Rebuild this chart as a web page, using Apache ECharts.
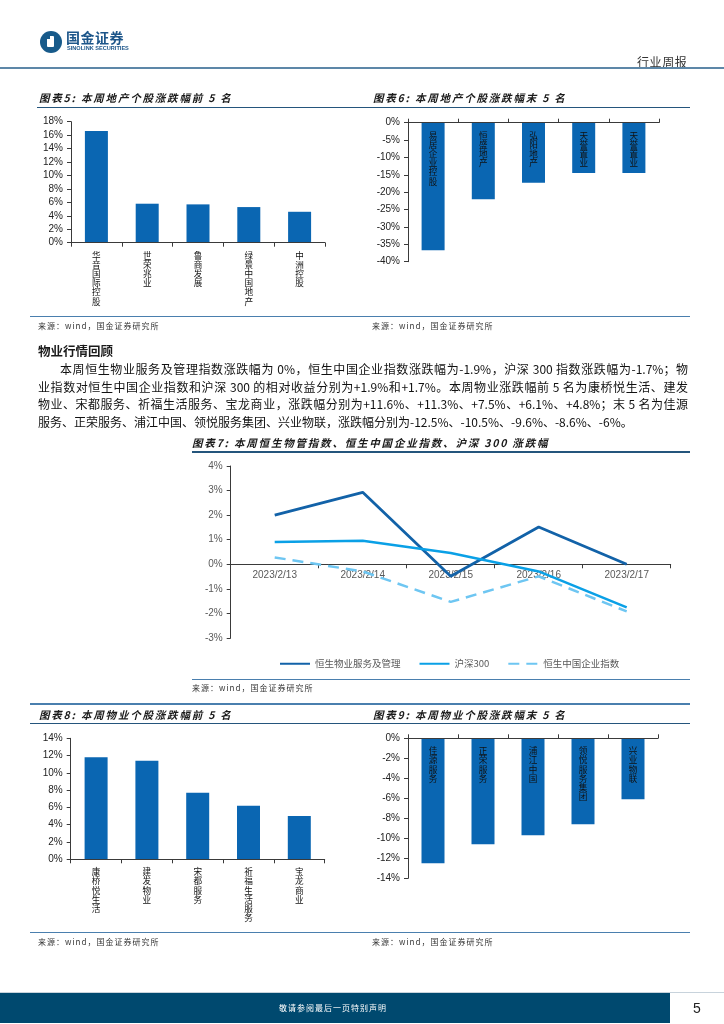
<!DOCTYPE html>
<html><head><meta charset="utf-8">
<script src="https://cdn.jsdelivr.net/npm/echarts@6/dist/echarts.min.js"></script>
<style>
body{margin:0;background:#fff;}
#page{position:relative;width:724px;height:1024px;overflow:hidden;font-family:"Noto Sans CJK SC","Liberation Sans",sans-serif;}
#chart{position:absolute;left:0;top:0;width:724px;height:1024px;}
.t{position:absolute;white-space:nowrap;color:#1a1a1a;z-index:2;}
.ln{position:absolute;z-index:2;}
.ttl{font-size:10.5px;font-weight:bold;font-style:italic;letter-spacing:1.8px;line-height:14px;}
.src{font-size:8px;letter-spacing:1px;color:#333;line-height:12px;}
.para{position:absolute;font-size:12px;line-height:16px;color:#111;z-index:2;white-space:nowrap;}
.just{text-align:justify;text-align-last:justify;white-space:normal;}
</style></head>
<body><div id="page">
<div id="chart"></div>

<!-- header -->
<div class="ln" style="left:39.5px;top:30.5px;width:22px;height:22px;border-radius:50%;background:#175a8a;"></div>
<div class="ln" style="left:47px;top:35.5px;width:7px;height:11px;background:#fff;border-radius:1px;"></div>
<div class="ln" style="left:47px;top:35.5px;width:3px;height:3px;background:#175a8a;"></div>
<div class="t" style="left:66px;top:29px;font-size:14px;line-height:17px;font-weight:bold;color:#1d568a;letter-spacing:0.5px;">国金证券</div>
<div class="t" style="left:67px;top:44.5px;font-size:5.6px;line-height:7px;font-weight:bold;color:#1d568a;font-family:'Liberation Sans',sans-serif;">SINOLINK SECURITIES</div>
<div class="t" style="left:637px;top:54px;font-size:12px;line-height:15px;letter-spacing:0.6px;color:#333;">行业周报</div>
<div class="ln" style="left:0;top:67px;width:724px;height:2px;background:#5d87a8;"></div>

<!-- titles row 1 -->
<div class="t ttl" style="left:39px;top:91px;">图表5: 本周地产个股涨跌幅前 5 名</div>
<div class="t ttl" style="left:373px;top:91px;">图表6: 本周地产个股涨跌幅末 5 名</div>
<div class="ln" style="left:37px;top:106.5px;width:653px;height:1.5px;background:#24557c;"></div>
<div class="ln" style="left:30px;top:315.5px;width:660px;height:1.5px;background:#4a7fae;"></div>
<div class="t src" style="left:38px;top:320px;">来源：wind，国金证券研究所</div>
<div class="t src" style="left:372px;top:320px;">来源：wind，国金证券研究所</div>

<!-- paragraph -->
<div class="t" style="left:38px;top:343px;font-size:12.5px;line-height:16px;font-weight:bold;">物业行情回顾</div>
<div class="para just" style="left:60px;top:361px;width:628px;height:16px;overflow:hidden;">本周恒生物业服务及管理指数涨跌幅为 0%，恒生中国企业指数涨跌幅为-1.9%，沪深 300 指数涨跌幅为-1.7%；物</div>
<div class="para just" style="left:38px;top:378.5px;width:650px;height:16px;overflow:hidden;">业指数对恒生中国企业指数和沪深 300 的相对收益分别为+1.9%和+1.7%。本周物业涨跌幅前 5 名为康桥悦生活、建发</div>
<div class="para just" style="left:38px;top:396px;width:650px;height:16px;overflow:hidden;">物业、宋都服务、祈福生活服务、宝龙商业，涨跌幅分别为+11.6%、+11.3%、+7.5%、+6.1%、+4.8%；末 5 名为佳源</div>
<div class="para" style="left:38px;top:413.5px;">服务、正荣服务、浦江中国、领悦服务集团、兴业物联，涨跌幅分别为-12.5%、-10.5%、-9.6%、-8.6%、-6%。</div>

<!-- chart 7 title -->
<div class="t ttl" style="left:192px;top:436px;">图表7: 本周恒生物管指数、恒生中国企业指数、沪深 300 涨跌幅</div>
<div class="ln" style="left:192px;top:451px;width:498px;height:1.5px;background:#24557c;"></div>
<div class="ln" style="left:192px;top:678.5px;width:498px;height:1.5px;background:#4a7fae;"></div>
<div class="t src" style="left:192px;top:682px;">来源：wind，国金证券研究所</div>

<!-- row 3 titles -->
<div class="ln" style="left:30px;top:703px;width:660px;height:1.5px;background:#4a7fae;"></div>
<div class="t ttl" style="left:39px;top:708px;">图表8: 本周物业个股涨跌幅前 5 名</div>
<div class="t ttl" style="left:373px;top:708px;">图表9: 本周物业个股涨跌幅末 5 名</div>
<div class="ln" style="left:30px;top:722.5px;width:660px;height:1.5px;background:#24557c;"></div>
<div class="ln" style="left:30px;top:931.5px;width:660px;height:1.5px;background:#4a7fae;"></div>
<div class="t src" style="left:38px;top:936px;">来源：wind，国金证券研究所</div>
<div class="t src" style="left:372px;top:936px;">来源：wind，国金证券研究所</div>

<!-- footer -->
<div class="ln" style="left:0;top:992px;width:724px;height:1px;background:#c8d3dc;"></div>
<div class="ln" style="left:0;top:993px;width:670px;height:30px;background:#00496f;"></div>
<div class="t" style="left:279px;top:1002px;font-size:8px;line-height:12px;letter-spacing:1px;color:#fff;">敬请参阅最后一页特别声明</div>
<div class="t" style="left:693px;top:1000px;font-size:14px;line-height:16px;color:#222;font-family:'Liberation Sans Narrow','Liberation Sans',sans-serif;">5</div>
</div>
<script>
// ---- data ----
const cat5 = ['华音国际控股','世荣兆业','鲁商发展','绿景中国地产','中洲控股'];
const val5 = [16.6, 5.8, 5.7, 5.3, 4.6];
const cat6 = ['易居企业控股','恒盛地产','弘阳地产','天誉置业','天誉置业'];
const val6 = [-36.7, -22.0, -17.3, -14.5, -14.5];
const dates7 = ['2023/2/13','2023/2/14','2023/2/15','2023/2/16','2023/2/17'];
const names7 = ['恒生物业服务及管理','沪深300','恒生中国企业指数'];
const hsPM = [2.0, 2.93, -0.49, 1.52, 0];
const hs300 = [0.91, 0.96, 0.46, -0.29, -1.75];
const hscei = [0.28, -0.29, -1.53, -0.49, -1.92];
const cat8 = ['康桥悦生活','建发物业','宋都服务','祈福生活服务','宝龙商业'];
const val8 = [11.8, 11.4, 7.7, 6.2, 5.0];
const cat9 = ['佳源服务','正荣服务','浦江中国','领悦服务集团','兴业物联'];
const val9 = [-12.5, -10.6, -9.7, -8.6, -6.1];

const barColor = '#0a66b2';
const axisColor = '#3a3a3a';
const vert = s => s.split('').join('\n');
const numFont = '"Liberation Sans","Noto Sans CJK SC",sans-serif';

function yAx(grid, min, max, interval, color) {
  return {
    type: 'value', gridIndex: grid, min, max, interval,
    axisLine: {show: true, lineStyle: {color: axisColor, width: 1}},
    axisTick: {show: true, length: 4, lineStyle: {color: axisColor}},
    splitLine: {show: false},
    axisLabel: {formatter: '{value}%', fontSize: 10, color: color || '#222', margin: 8, fontFamily: numFont}
  };
}
// top = axis sits at top of grid (value range ends at 0), labels drawn inside the grid
function xCat(grid, data, top) {
  return {
    type: 'category', gridIndex: grid, data, z: 10,
    position: top ? 'top' : 'bottom',
    axisLine: {show: true, onZero: false, lineStyle: {color: axisColor, width: 1}},
    axisTick: {show: true, length: 4, inside: false, lineStyle: {color: axisColor}},
    axisLabel: {interval: 0, inside: !!top, formatter: vert, fontSize: 8.6, lineHeight: 9.2, color: '#111', margin: 8,
      fontFamily: '"Noto Sans CJK SC",sans-serif'}
  };
}
function bar(i, data) {
  return {type: 'bar', xAxisIndex: i, yAxisIndex: i, data, barWidth: 23, itemStyle: {color: barColor}, silent: true};
}

const g7 = {left: 230.7, top: 466, width: 440, height: 172};
const y7min = -3, y7max = 4;
const zeroOffset7 = -g7.height * (0 - y7min) / (y7max - y7min);

const chart = echarts.init(document.getElementById('chart'), null, {renderer: 'canvas'});
chart.setOption({
  animation: false,
  grid: [
    {left: 71, top: 121.7, width: 254, height: 121},
    {left: 408, top: 122.7, width: 251, height: 139},
    g7,
    {left: 70.7, top: 738.3, width: 254, height: 121},
    {left: 408, top: 738.3, width: 250, height: 140}
  ],
  xAxis: [
    xCat(0, cat5, false),
    xCat(1, cat6, true),
    {
      type: 'category', gridIndex: 2, data: dates7, boundaryGap: true, z: 1,
      position: 'bottom', offset: zeroOffset7,
      axisLine: {show: true, onZero: false, lineStyle: {color: axisColor, width: 1}},
      axisTick: {show: true, length: 4, lineStyle: {color: axisColor}},
      axisLabel: {fontSize: 10, color: '#595959', margin: 6, fontFamily: numFont}
    },
    xCat(3, cat8, false),
    xCat(4, cat9, true)
  ],
  yAxis: [
    yAx(0, 0, 18, 2),
    yAx(1, -40, 0, 5),
    yAx(2, y7min, y7max, 1, '#595959'),
    yAx(3, 0, 14, 2),
    yAx(4, -14, 0, 2)
  ],
  legend: {
    data: names7, left: 274, top: 654, itemWidth: 30, itemHeight: 10, itemGap: 18,
    itemStyle: {opacity: 0},
    textStyle: {fontSize: 9.5, color: '#595959', fontFamily: '"Noto Sans CJK SC",sans-serif'}
  },
  series: [
    bar(0, val5), bar(1, val6),
    {type: 'line', name: names7[0], xAxisIndex: 2, yAxisIndex: 2, data: hsPM, symbol: 'none',
      lineStyle: {color: '#1262a8', width: 2.8}, itemStyle: {color: '#1262a8'}, z: 3},
    {type: 'line', name: names7[1], xAxisIndex: 2, yAxisIndex: 2, data: hs300, symbol: 'none',
      lineStyle: {color: '#0aa0e6', width: 2.5}, itemStyle: {color: '#0aa0e6'}, z: 3},
    {type: 'line', name: names7[2], xAxisIndex: 2, yAxisIndex: 2, data: hscei, symbol: 'none',
      lineStyle: {color: '#6ec6f2', width: 2.5, type: [11, 7]}, itemStyle: {color: '#6ec6f2'}, z: 2},
    bar(3, val8), bar(4, val9)
  ]
});
</script>
</body></html>
